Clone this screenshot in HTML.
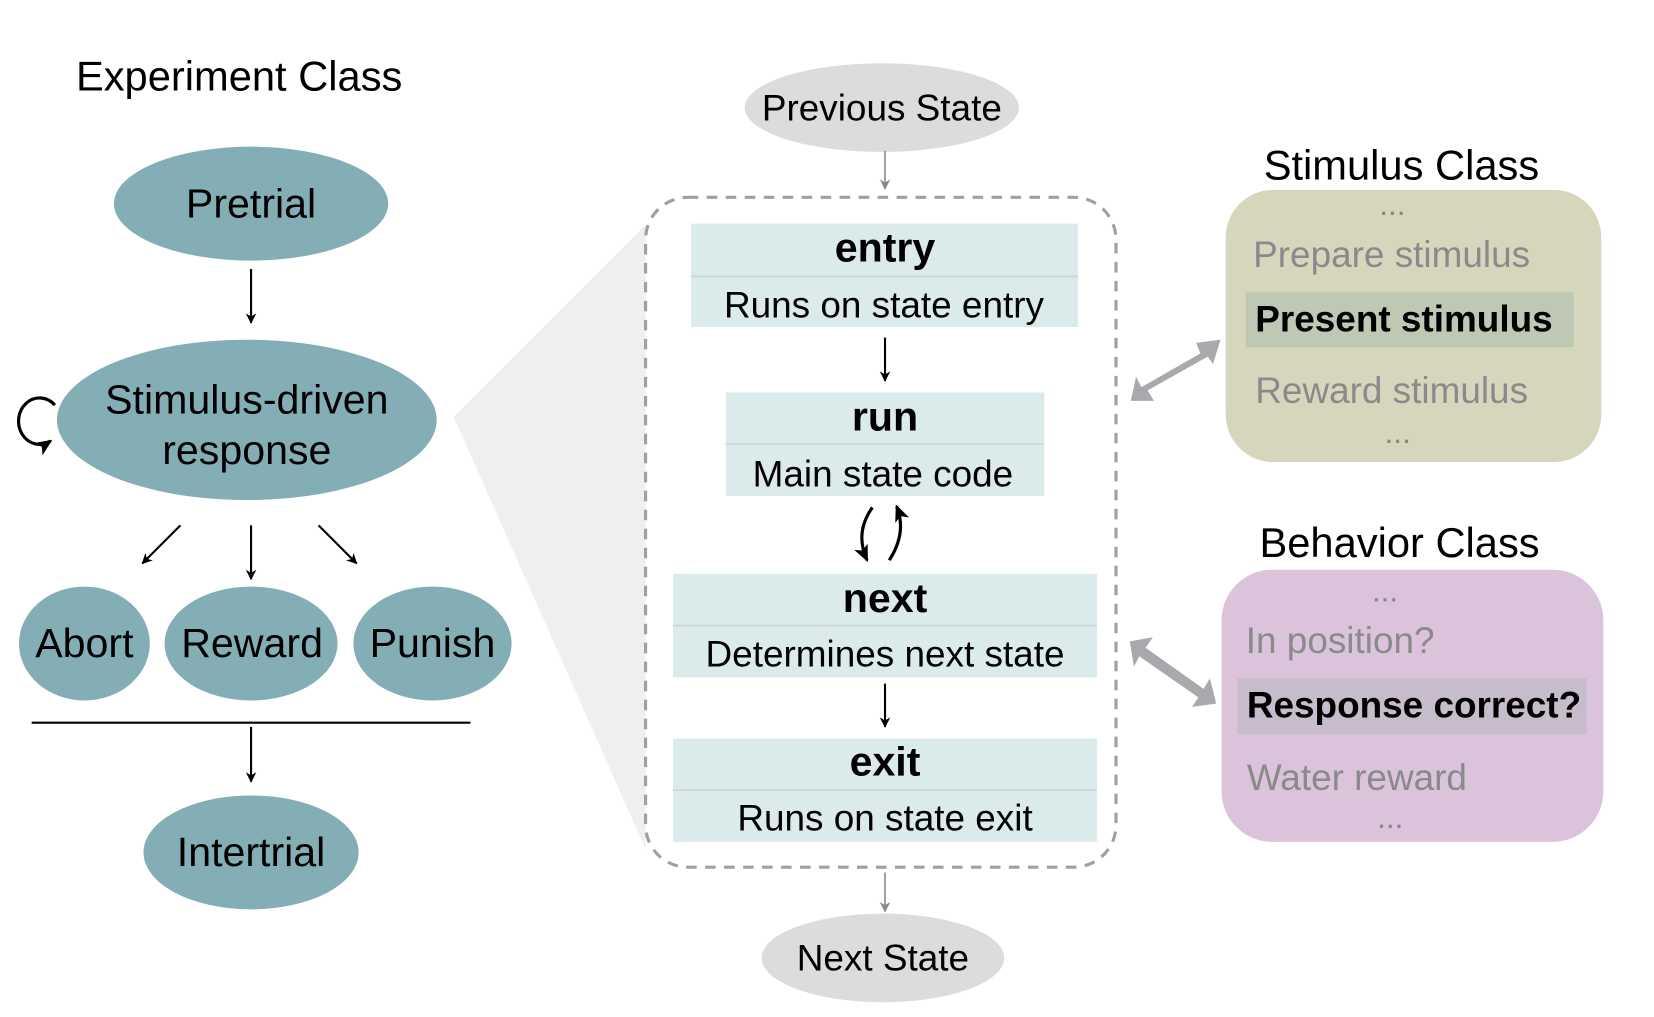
<!DOCTYPE html>
<html><head><meta charset="utf-8"><style>
html,body{margin:0;padding:0;background:#fff;}
svg{display:block;}
text{font-family:"Liberation Sans",Arial,sans-serif;}
</style></head><body>
<svg width="1654" height="1017" viewBox="0 0 1568 964" preserveAspectRatio="none" xmlns="http://www.w3.org/2000/svg">
<defs>
<marker id="ah" markerWidth="10" markerHeight="10" refX="9" refY="5" orient="auto" markerUnits="userSpaceOnUse">
<path d="M0,0 L10,5 L0,10 L3,5 z" fill="#000"/></marker>
<marker id="ahg" markerWidth="10" markerHeight="10" refX="9" refY="5" orient="auto" markerUnits="userSpaceOnUse">
<path d="M0,0 L10,5 L0,10 L3,5 z" fill="#888"/></marker>
<marker id="ahc" markerWidth="16" markerHeight="14" refX="14" refY="7" orient="auto" markerUnits="userSpaceOnUse">
<path d="M0,0 L16,7 L0,14 L4,7 z" fill="#000"/></marker>
</defs>
<rect width="1568" height="964" fill="#fff"/>

<polygon points="430,395 612,213 612,805" fill="#eef0ee"/>

<text x="72" y="86" font-size="39.5">Experiment Class</text>
<ellipse cx="238" cy="193" rx="130" ry="54" fill="#84aeb5"/>
<text x="238" y="206" font-size="39" text-anchor="middle">Pretrial</text>
<line x1="238" y1="255" x2="238" y2="306" stroke="#000" stroke-width="2" marker-end="url(#ah)"/>
<ellipse cx="234" cy="398" rx="180" ry="76" fill="#84aeb5"/>
<text x="234" y="392" font-size="39" text-anchor="middle">Stimulus-driven</text>
<text x="234" y="440" font-size="39" text-anchor="middle">response</text>
<path d="M52,384 A20,22 0 1 0 48,418" fill="none" stroke="#000" stroke-width="3" marker-end="url(#ahc)"/>
<line x1="171" y1="498" x2="135" y2="534" stroke="#000" stroke-width="2" marker-end="url(#ah)"/>
<line x1="238" y1="498" x2="238" y2="549" stroke="#000" stroke-width="2" marker-end="url(#ah)"/>
<line x1="302" y1="498" x2="338" y2="534" stroke="#000" stroke-width="2" marker-end="url(#ah)"/>
<ellipse cx="80" cy="610" rx="62" ry="54" fill="#84aeb5"/>
<ellipse cx="238" cy="610" rx="82" ry="54" fill="#84aeb5"/>
<ellipse cx="410" cy="610" rx="75" ry="54" fill="#84aeb5"/>
<text x="80" y="623" font-size="39" text-anchor="middle">Abort</text>
<text x="239" y="623" font-size="39" text-anchor="middle">Reward</text>
<text x="410" y="623" font-size="39" text-anchor="middle">Punish</text>
<line x1="30" y1="685" x2="446" y2="685" stroke="#000" stroke-width="2"/>
<line x1="238" y1="689" x2="238" y2="741" stroke="#000" stroke-width="2" marker-end="url(#ah)"/>
<ellipse cx="238" cy="808" rx="102" ry="54" fill="#84aeb5"/>
<text x="238" y="821" font-size="39" text-anchor="middle">Intertrial</text>

<ellipse cx="836" cy="102" rx="130" ry="42" fill="#dcdcdf"/>
<text x="836" y="114" font-size="35" text-anchor="middle">Previous State</text>
<line x1="839" y1="143" x2="839" y2="179" stroke="#888" stroke-width="1.5" marker-end="url(#ahg)"/>
<rect x="612" y="187" width="446" height="635" rx="40" fill="none" stroke="#a0a0a0" stroke-width="3" stroke-dasharray="10,8"/>

<rect x="655" y="212" width="367" height="98" fill="#dbeaea"/>
<line x1="655" y1="262" x2="1022" y2="262" stroke="#cfd4d4" stroke-width="1.5"/>
<text x="839" y="248" font-size="39" font-weight="bold" text-anchor="middle">entry</text>
<text x="838" y="301" font-size="35" text-anchor="middle">Runs on state entry</text>
<line x1="839" y1="320" x2="839" y2="361" stroke="#000" stroke-width="2" marker-end="url(#ah)"/>

<rect x="688" y="372" width="302" height="98" fill="#dbeaea"/>
<line x1="688" y1="421" x2="990" y2="421" stroke="#cfd4d4" stroke-width="1.5"/>
<text x="839" y="408" font-size="39" font-weight="bold" text-anchor="middle">run</text>
<text x="837" y="461" font-size="35" text-anchor="middle">Main state code</text>

<path d="M827,481 Q810,505 822,531" fill="none" stroke="#000" stroke-width="3" marker-end="url(#ahc)"/>
<path d="M843,531 Q860,505 850,480" fill="none" stroke="#000" stroke-width="3" marker-end="url(#ahc)"/>

<rect x="638" y="544" width="402" height="98" fill="#dbeaea"/>
<line x1="638" y1="593" x2="1040" y2="593" stroke="#cfd4d4" stroke-width="1.5"/>
<text x="839" y="580" font-size="39" font-weight="bold" text-anchor="middle">next</text>
<text x="839" y="632" font-size="35" text-anchor="middle">Determines next state</text>
<line x1="839" y1="648" x2="839" y2="689" stroke="#000" stroke-width="2" marker-end="url(#ah)"/>

<rect x="638" y="700" width="402" height="98" fill="#dbeaea"/>
<line x1="638" y1="749" x2="1040" y2="749" stroke="#cfd4d4" stroke-width="1.5"/>
<text x="839" y="735" font-size="39" font-weight="bold" text-anchor="middle">exit</text>
<text x="839" y="787" font-size="35" text-anchor="middle">Runs on state exit</text>

<line x1="839" y1="827" x2="839" y2="864" stroke="#888" stroke-width="1.5" marker-end="url(#ahg)"/>
<ellipse cx="837" cy="908" rx="115" ry="42" fill="#dcdcdf"/>
<text x="837" y="920" font-size="35" text-anchor="middle">Next State</text>

<text x="1198" y="170" font-size="39.5">Stimulus Class</text>
<rect x="1162" y="180" width="356" height="258" rx="45" fill="#d6d6bd"/>
<text x="1320" y="204" font-size="30" fill="#888" text-anchor="middle">...</text>
<text x="1188" y="253" font-size="35" fill="#8a8a8a">Prepare stimulus</text>
<rect x="1181" y="277" width="311" height="52" fill="#bfc8b2"/>
<text x="1190" y="314" font-size="35" font-weight="bold">Present stimulus</text>
<text x="1190" y="382" font-size="35" fill="#8a8a8a">Reward stimulus</text>
<text x="1325" y="420" font-size="30" fill="#888" text-anchor="middle">...</text>
<polygon points="1072,380 1077,357 1082,367 1138,335 1134,325 1157,322 1150,345 1145,338 1088,370 1094,380" fill="#a8a9ad"/>

<text x="1194" y="528" font-size="39.5">Behavior Class</text>
<rect x="1158" y="540" width="362" height="258" rx="48" fill="#dbc3dc"/>
<text x="1313" y="570" font-size="30" fill="#888" text-anchor="middle">...</text>
<text x="1181" y="619" font-size="35" fill="#8a8a8a">In position?</text>
<rect x="1173" y="643" width="331" height="53" fill="#c7bccb"/>
<text x="1182" y="680" font-size="35" font-weight="bold">Response correct?</text>
<text x="1182" y="749" font-size="35" fill="#8a8a8a">Water reward</text>
<text x="1318" y="785" font-size="30" fill="#888" text-anchor="middle">...</text>
<polygon points="1071,608 1093,604 1086,614 1141,653 1147,643 1153,667 1130,670 1136,661 1080,622 1075,632" fill="#a8a9ad"/>
</svg>
</body></html>
